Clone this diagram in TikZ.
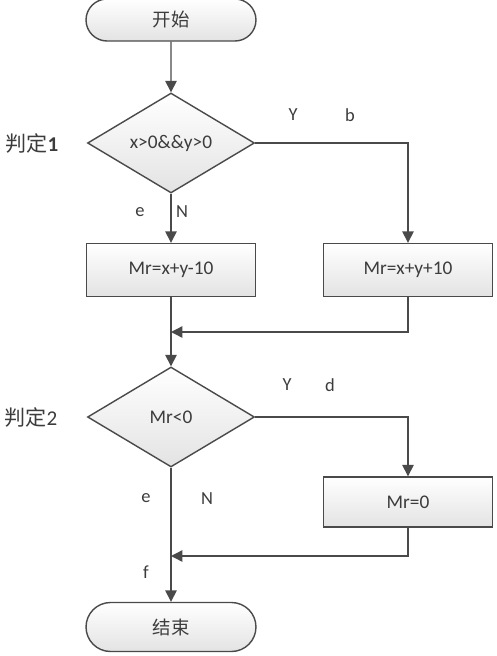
\documentclass[tikz,border=0pt]{standalone}
\usepackage{fontspec}
\setmainfont{Carlito}
\newfontfamily\cjk{Noto Sans CJK SC}
\usetikzlibrary{shapes.geometric,shapes.misc,arrows.meta}
\definecolor{linegray}{HTML}{4A4A4A}
\definecolor{textgray}{HTML}{3C3C3C}

\begin{document}
\begin{tikzpicture}[x=0.02cm,y=-0.02cm,
  terminal/.style={rounded rectangle,draw=linegray,line width=0.8pt,
    top color=white,bottom color=black!11,minimum width=3.4cm,
    minimum height=0.86cm,inner sep=0pt,
    font=\cjk\fontsize{10.5}{12}\selectfont,text=textgray},
  decision/.style={diamond,draw=linegray,line width=0.8pt,
    top color=white,bottom color=black!11,minimum width=3.34cm,
    minimum height=2cm,inner sep=0pt,
    font=\fontsize{11}{13}\selectfont,text=textgray},
  process/.style={rectangle,draw=linegray,line width=0.8pt,
    top color=white,bottom color=black!11,minimum width=3.38cm,
    minimum height=1.06cm,inner sep=0pt,
    font=\fontsize{11}{13}\selectfont,text=textgray},
  flow/.style={draw=linegray,line width=0.8pt,
    -{Triangle[length=6.5pt,width=6.5pt]}},
  lbl/.style={font=\fontsize{10.5}{12}\selectfont,text=textgray},
  tag/.style={font=\cjk\fontsize{12}{14}\selectfont,text=textgray}
]

  \useasboundingbox (0,0) rectangle (497,656);

  \node (start) at (171,20) [terminal,minimum height=0.84cm] {开始};
  \node (judge1) at (171,143) [decision] {x>0\&\&y>0};
  \node (calcA) at (171,270) [process] {Mr=x+y-10};
  \node (calcB) at (408,270) [process] {Mr=x+y+10};
  \node (judge2) at (171,417) [decision] {Mr<0};
  \node (zero) at (408,502) [process,minimum height=1cm] {Mr=0};
  \node (stop) at (171,627) [terminal,minimum height=0.98cm] {结束};

  \coordinate (joinA) at (171,332);
  \coordinate (joinB) at (171,556);

  \draw[flow] (start) -- (judge1);
  \draw[flow] (judge1.east) -| (calcB.north);
  \draw[flow] (judge1.south) -- (calcA.north);
  \draw[flow] (calcB.south) |- (joinA);
  \draw[flow] (calcA.south) -- (judge2.north);
  \draw[flow] (judge2.east) -| (zero.north);
  \draw[flow] (zero.south) |- (joinB);
  \draw[flow] (judge2.south) -- (stop.north);

  \node (tag1) at (32,143) [tag] {判定{\rmfamily\bfseries 1}};
  \node (tag2) at (31,417) [tag] {判定{\rmfamily 2}};

  \node (yes1) at (293,115) [lbl] {Y};
  \node (b1) at (350,115) [lbl] {b};
  \node (e1) at (140,212) [lbl] {e};
  \node (no1) at (182,212) [lbl] {N};
  \node (yes2) at (287,385) [lbl] {Y};
  \node (d2) at (330,385) [lbl] {d};
  \node (e2) at (146,498) [lbl] {e};
  \node (no2) at (207,499) [lbl] {N};
  \node (f2) at (146,572) [lbl] {f};

\end{tikzpicture}
\end{document}
